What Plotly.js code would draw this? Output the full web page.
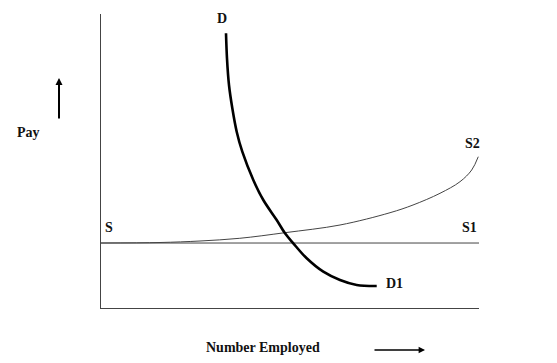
<!DOCTYPE html>
<html><head><meta charset="utf-8">
<script src="https://cdn.plot.ly/plotly-3.0.1.min.js"></script>
<style>html,body{margin:0;padding:0;background:#fff}#c{width:557px;height:363px}</style>
</head><body><div id="c"></div>
<script>
// Demand curve D -> D1 (number employed, pay) in 0-100 units
const demandX = [33.07, 33.33, 33.86, 34.74, 35.90, 37.38, 40.29, 42.94, 46.48, 48.68, 50.87, 54.42, 58.81, 63.23, 67.65, 72.94];
const demandY = [93.44, 84.93, 75.85, 67.93, 59.97, 53.16, 43.54, 36.73, 29.93, 25.41, 22.01, 16.91, 12.35, 9.52, 7.82, 7.48];
// Supply S -> S1 (flat)
const supply1X = [0, 100];
const supply1Y = [22.1, 22.1];
// Supply S -> S2 (rising)
const supply2X = [0, 15.61, 26.19, 36.72, 48.62, 63.23, 76.46, 82.54, 89.68, 94.97, 98.07, 99.81];
const supply2Y = [22.11, 22.28, 22.79, 23.71, 25.61, 28.23, 32.41, 35.03, 39.01, 42.96, 46.94, 51.46];

const L = 101, R = 479, T = 14, B = 308;
const px = v => (v - L) / (R - L);
const py = v => (B - v) / (B - T);
const font = {family: 'Liberation Serif, Times New Roman, serif', size: 14, color: '#111'};
function lab(text, x, y) {
  return {text: '<b>' + text + '</b>', x: px(x), y: py(y), xref: 'paper', yref: 'paper',
          showarrow: false, xanchor: 'center', yanchor: 'middle', font: font};
}

const traces = [
  {x: supply1X, y: supply1Y, mode: 'lines', line: {color: '#444', width: 1}, hoverinfo: 'none'},
  {x: supply2X, y: supply2Y, mode: 'lines', line: {color: '#444', width: 1, shape: 'spline', smoothing: 1}, hoverinfo: 'none'},
  {x: demandX, y: demandY, mode: 'lines', line: {color: '#000', width: 2.6, shape: 'spline', smoothing: 1}, hoverinfo: 'none'}
];

const layout = {
  width: 557, height: 363,
  margin: {l: L, r: 557 - R, t: T, b: 363 - B, pad: 0},
  paper_bgcolor: '#fff', plot_bgcolor: '#fff',
  showlegend: false,
  xaxis: {range: [0, 100], showgrid: false, zeroline: false, showticklabels: false, ticks: '',
          showline: true, linecolor: '#444', linewidth: 1, fixedrange: true},
  yaxis: {range: [0, 100], showgrid: false, zeroline: false, showticklabels: false, ticks: '',
          showline: true, linecolor: '#444', linewidth: 1, fixedrange: true},
  annotations: [
    lab('D', 222, 18),
    lab('D1', 394, 283),
    lab('S', 109, 228),
    lab('S1', 469, 228),
    lab('S2', 472, 143),
    lab('Pay', 28, 132),
    lab('Number Employed', 263, 347),
    {x: px(59), y: py(78), xref: 'paper', yref: 'paper', text: '', showarrow: true,
     ax: 0, ay: 42, arrowhead: 2, arrowsize: 0.7, arrowwidth: 2, arrowcolor: '#000'},
    {x: px(425), y: py(350), xref: 'paper', yref: 'paper', text: '', showarrow: true,
     ax: -52, ay: 0, arrowhead: 2, arrowsize: 0.8, arrowwidth: 1.6, arrowcolor: '#000'}
  ]
};
Plotly.newPlot('c', traces, layout, {displayModeBar: false, staticPlot: true});
</script></body></html>
